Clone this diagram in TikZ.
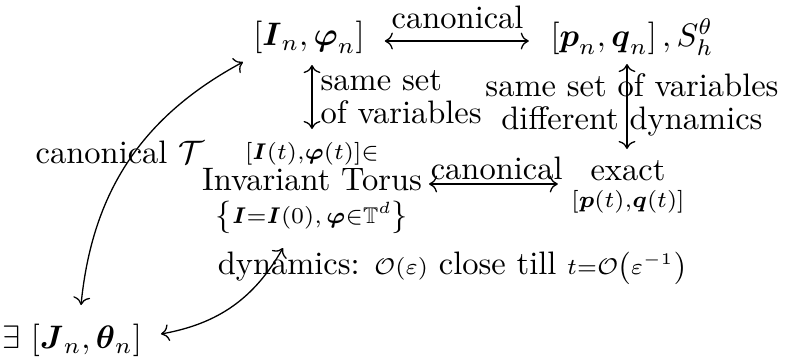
\documentclass[tikz,border=0pt]{standalone}
\usepackage{amsmath,amssymb}
\usepackage{tikz-cd}
\begin{document}
\begin{tikzpicture}[x=0.30769pt,y=-0.30769pt,
  lbl/.style={inner sep=0pt},
  conn/.style={{cm to}-{cm to}, line width=0.4pt},
]
\useasboundingbox (0,0) rectangle (794,360);
% nodes
\node[lbl] (N1) at (309,37) {$[\boldsymbol{I}_n,\boldsymbol{\varphi}_n]$};
\node[lbl] (N2) at (632,37) {$\left[\boldsymbol{p}_n,\boldsymbol{q}_n\right],S_h^{\theta}$};
\node[lbl, align=center] (M) at (312,188) {$\scriptstyle[\boldsymbol{I}(t),\boldsymbol{\varphi}(t)]\in$\\[-2.5pt]
  Invariant Torus\\[-1.8pt]
  $\scriptstyle\left\{\boldsymbol{I}=\boldsymbol{I}(0),\,\boldsymbol{\varphi}\in\mathbb{T}^d\right\}$};
\node[lbl] (E) at (628,187) {\shortstack{exact\\$\scriptstyle[\boldsymbol{p}(t),\boldsymbol{q}(t)]$}};
\node[lbl] (J) at (72,340) {$\exists\,\left[\boldsymbol{J}_n,\boldsymbol{\theta}_n\right]$};
% labels
\node[lbl] (CT) at (120,152) {canonical $\mathcal{T}$};
\node[lbl, anchor=west] (SL) at (320,97) {\shortstack[l]{same set\\of variables}};
\node[lbl] (SR) at (632,105) {\shortstack{same set of variables\\different dynamics}};
\node[lbl] (DY) at (452,268) {dynamics: $\scriptstyle\mathcal{O}(\varepsilon)$ close till $\scriptstyle t=\mathcal{O}\left(\varepsilon^{-1}\right)$};
% arrow end points
\coordinate (a1) at (312,65);
\coordinate (a2) at (312,129);
\coordinate (b1) at (627,64);
\coordinate (b2) at (627,149);
\coordinate (c1) at (81,305);
\coordinate (c2) at (243,62);
\coordinate (d1) at (161,334);
\coordinate (d2) at (283,248);
% connectors
\draw[conn, shorten <=6pt, shorten >=6.5pt] (N1.east |- 0,41) -- node[above=3.5pt, inner sep=0pt] {canonical} (N2.west |- 0,41);
\draw[conn, shorten <=2pt, shorten >=4pt] (M.east |- 0,184) -- node[above=1pt, inner sep=0pt] {canonical} (E.west |- 0,184);
\draw[conn] (a1) -- (a2);
\draw[conn] (b1) -- (b2);
\draw[conn] (c1) to[bend left=28] (c2);
\draw[conn] (d1) to[bend right=25] (d2);
\end{tikzpicture}
\end{document}
